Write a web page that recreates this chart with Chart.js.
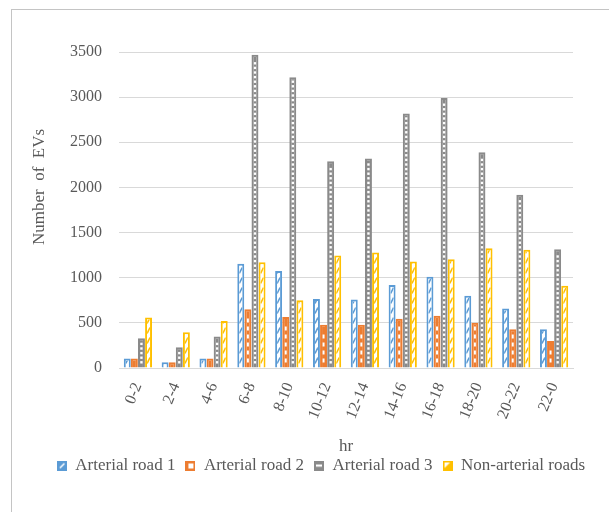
<!DOCTYPE html>
<html>
<head>
<meta charset="utf-8">
<title>Number of EVs by time of day</title>
<script src="https://cdn.jsdelivr.net/npm/chart.js@4.4.1/dist/chart.umd.min.js"></script>
<style>
  html, body { margin: 0; padding: 0; background: #fff; }
  #wrap { position: relative; width: 609px; height: 512px; overflow: hidden; }
  #frame { position: absolute; left: 11px; top: 9px; width: 700px; height: 600px;
           border: 1px solid #c4c4c4; box-sizing: border-box; }
  #c { position: absolute; left: 0; top: 0; }
</style>
</head>
<body>
<div id="wrap">
  <div id="frame"></div>
  <canvas id="c" width="609" height="512"></canvas>
</div>
<script>
// Two-hour time bands
const hours = ['0-2', '2-4', '4-6', '6-8', '8-10', '10-12', '12-14', '14-16', '16-18', '18-20', '20-22', '22-0'];

// Number of EVs per band and road type
const arterialRoad1 = [105, 65, 105, 1155, 1075, 765, 760, 920, 1010, 800, 660, 430];
const arterialRoad2 = [105, 65, 105, 650, 565, 480, 480, 545, 580, 500, 430, 300];
const arterialRoad3 = [330, 230, 350, 3470, 3220, 2290, 2320, 2820, 2990, 2390, 1920, 1315];
const nonArterialRoads = [560, 395, 520, 1170, 750, 1245, 1280, 1180, 1205, 1325, 1310, 910];

const seriesNames = ['Arterial road 1', 'Arterial road 2', 'Arterial road 3', 'Non-arterial roads'];
const yTicks = { min: 0, max: 3500, step: 500 };
const xTitleText = 'hr';
const yTitleText = 'Number of EVs';

const FONT = '"Palatino Linotype", "Book Antiqua", Palatino, "Liberation Serif", serif';
const TEXT = '#595959';
const GRID = '#d9d9d9';
const BLUE = '#5b9bd5', ORANGE = '#ed7d31', GRAY = '#8a8a8a', GOLD = '#ffc000';
const BORDER = 2;

// Small legend swatches mimicking each bar texture
function swatch(color, kind) {
  const c = document.createElement('canvas');
  c.width = 10; c.height = 10;
  const g = c.getContext('2d');
  g.fillStyle = color; g.fillRect(0, 0, 10, 10);
  g.fillStyle = '#fff'; g.strokeStyle = '#fff';
  if (kind === 'dash') {
    g.lineWidth = 1.6; g.beginPath(); g.moveTo(3, 7.5); g.lineTo(7.5, 3); g.stroke();
  } else if (kind === 'brick') {
    g.fillRect(3, 3, 5, 5);
  } else if (kind === 'ladder') {
    g.fillRect(2, 4, 6, 2.2);
  } else if (kind === 'tri') {
    g.beginPath(); g.moveTo(2, 2); g.lineTo(7.5, 2); g.lineTo(2, 7.5); g.closePath(); g.fill();
  }
  return c;
}

// Fill textures drawn inside each bar, following the bar's own geometry
function drawTexture(ctx, kind, color, l, r, t, b) {
  const cx = (l + r) / 2;
  if (kind === 'dash' || kind === 'tri') {
    ctx.strokeStyle = color; ctx.lineWidth = 1.6;
    for (let yy = b - 2; yy > t - 8; yy -= 10) {
      ctx.beginPath(); ctx.moveTo(l, yy); ctx.lineTo(r, yy - 6); ctx.stroke();
    }
  } else if (kind === 'brick') {
    ctx.fillStyle = '#fff';
    for (let yy = b - 3; yy - 4 > t + 1; yy -= 8) {
      ctx.fillRect(cx - 1, yy - 4, 2, 4);
    }
  } else if (kind === 'ladder') {
    ctx.fillStyle = '#fff';
    for (let yy = b - 2; yy - 2.4 > t + 1; yy -= 4.6) {
      ctx.fillRect(cx - 1.2, yy - 2.4, 2.4, 2.4);
    }
  }
}

const barTexture = {
  id: 'barTexture',
  afterDatasetsDraw(chart) {
    const ctx = chart.ctx;
    chart.data.datasets.forEach((ds, i) => {
      const meta = chart.getDatasetMeta(i);
      if (!chart.isDatasetVisible(i)) return;
      meta.data.forEach(bar => {
        const p = bar.getProps(['x', 'y', 'base', 'width'], true);
        const l = p.x - p.width / 2, r = p.x + p.width / 2;
        const t = Math.min(p.y, p.base), b = Math.max(p.y, p.base);
        const bw = ds.borderWidth;
        if (b - t <= 2 * bw) return;
        ctx.save();
        ctx.beginPath();
        ctx.rect(l + bw, t + bw, r - l - 2 * bw, b - t - 2 * bw);
        ctx.clip();
        drawTexture(ctx, ds.texture, ds.borderColor, l + bw, r - bw, t + bw, b - bw);
        ctx.restore();
      });
    });
  }
};

// Vertical axis title, set a little above the plot's mid-height
const yAxisTitle = {
  id: 'yAxisTitle',
  afterDraw(chart) {
    const a = chart.chartArea;
    const ctx = chart.ctx;
    ctx.save();
    ctx.translate(a.left - 79, a.top + 135);
    ctx.rotate(-Math.PI / 2);
    ctx.font = '17px ' + FONT;
    ctx.fillStyle = TEXT;
    ctx.textAlign = 'center';
    ctx.textBaseline = 'middle';
    ctx.fillText(yTitleText.split(' ').join('  '), 0, 0);
    ctx.restore();
  }
};

const styles = [
  { color: BLUE, bg: '#ffffff', texture: 'dash' },
  { color: ORANGE, bg: ORANGE, texture: 'brick' },
  { color: GRAY, bg: GRAY, texture: 'ladder' },
  { color: GOLD, bg: '#ffffff', texture: 'tri' }
];
const values = [arterialRoad1, arterialRoad2, arterialRoad3, nonArterialRoads];

const datasets = values.map((v, i) => ({
  label: seriesNames[i],
  data: v,
  backgroundColor: styles[i].bg,
  borderColor: styles[i].color,
  borderWidth: BORDER,
  texture: styles[i].texture,
  legendIcon: swatch(styles[i].color, styles[i].texture),
  categoryPercentage: 0.75,
  barPercentage: 0.98
}));

new Chart(document.getElementById('c'), {
  type: 'bar',
  data: { labels: hours, datasets },
  plugins: [barTexture, yAxisTitle],
  options: {
    responsive: false,
    animation: false,
    layout: { padding: { top: 52, left: 33, right: 0, bottom: 28 } },
    plugins: {
      tooltip: { enabled: false },
      legend: {
        position: 'bottom',
        labels: {
          usePointStyle: true,
          boxWidth: 10,
          boxHeight: 10,
          padding: 10,
          color: TEXT,
          font: { family: FONT, size: 17 },
          generateLabels(chart) {
            return chart.data.datasets.map((ds, i) => ({
              text: ds.label,
              pointStyle: ds.legendIcon,
              fillStyle: ds.borderColor,
              strokeStyle: ds.borderColor,
              lineWidth: 0,
              fontColor: TEXT,
              hidden: !chart.isDatasetVisible(i),
              datasetIndex: i
            }));
          }
        }
      }
    },
    scales: {
      x: {
        grid: { display: false, drawTicks: false },
        border: { display: true, color: GRID, width: 1 },
        ticks: {
          color: TEXT,
          font: { family: FONT, size: 16 },
          minRotation: 68,
          maxRotation: 68,
          padding: 12
        },
        title: {
          display: true,
          text: xTitleText,
          color: TEXT,
          font: { family: FONT, size: 17 },
          padding: { top: 0, bottom: -10 }
        },
        afterFit(s) { s.height = 79; }
      },
      y: {
        min: yTicks.min,
        max: yTicks.max,
        ticks: {
          stepSize: yTicks.step,
          color: TEXT,
          font: { family: FONT, size: 16 },
          padding: 17,
          callback: v => String(v)
        },
        grid: { color: GRID, lineWidth: 1, drawTicks: false },
        border: { display: false },
        afterFit(s) { s.width = 86; }
      },
      yRight: {
        position: 'right',
        display: true,
        grid: { display: false, drawTicks: false },
        border: { display: false },
        ticks: { display: false },
        afterFit(s) { s.width = 36; }
      }
    }
  }
});
</script>
</body>
</html>
